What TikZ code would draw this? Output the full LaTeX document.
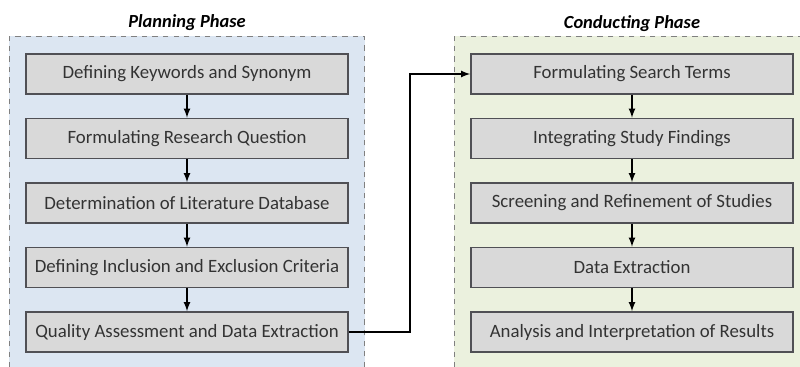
\documentclass[tikz,border=0pt]{standalone}
\usepackage{fontspec}
\setmainfont{Carlito}
\usetikzlibrary{arrows,positioning,fit,backgrounds}
\definecolor{planblue}{RGB}{220,230,242}
\definecolor{condgreen}{RGB}{235,241,222}
\definecolor{taskgray}{RGB}{217,217,217}
\definecolor{taskline}{RGB}{80,80,85}

\begin{document}
\begin{tikzpicture}[node distance=1.29cm,on grid,>=latex,
   task/.style={draw=taskline,fill=taskgray,line width=0.9pt,minimum width=6.44cm,
      minimum height=0.8cm,text=black!80,font=\fontsize{10.7}{12}\selectfont},
   phase/.style={draw=gray,dashed,line width=0.6pt,inner xsep=0.32cm,inner ysep=0.34cm},
   title/.style={font=\fontsize{10.5}{12}\selectfont\bfseries\itshape}]
   \useasboundingbox (0,0) rectangle (16,-7.34);
   % planning phase
   \node[task] (p1) at (3.74,-1.48) {Defining Keywords and Synonym};
   \node[task] (p2) [below=of p1] {Formulating Research Question};
   \node[task] (p3) [below=of p2] {Determination of Literature Database};
   \node[task] (p4) [below=of p3] {Defining Inclusion and Exclusion Criteria};
   \node[task] (p5) [below=of p4] {Quality Assessment and Data Extraction};
   % conducting phase
   \node[task] (c1) at (12.64,-1.48) {Formulating Search Terms};
   \node[task] (c2) [below=of c1] {Integrating Study Findings};
   \node[task] (c3) [below=of c2] {Screening and Refinement of Studies};
   \node[task] (c4) [below=of c3] {Data Extraction};
   \node[task] (c5) [below=of c4] {Analysis and Interpretation of Results};

   \begin{scope}[on background layer]
     \node[phase,fill=planblue,fit=(p1)(p5)] (plan) {};
     \node[phase,fill=condgreen,fit=(c1)(c5)] (cond) {};
   \end{scope}
   \node[title] (plantitle) at (plan.north) [yshift=0.26cm] {Planning Phase};
   \node[title] (condtitle) at (cond.north -| c1) [yshift=0.24cm] {Conducting Phase};

   \coordinate (turn) at (8.2,0);
   \path[->,line width=0.8pt]
    (p1) edge (p2)
    (p2) edge (p3)
    (p3) edge (p4)
    (p4) edge (p5)
    (c1) edge (c2)
    (c2) edge (c3)
    (c3) edge (c4)
    (c4) edge (c5);
   \draw[->,line width=0.8pt] (p5.east) -| (turn |- c1.west) -- (c1.west);
\end{tikzpicture}
\end{document}
